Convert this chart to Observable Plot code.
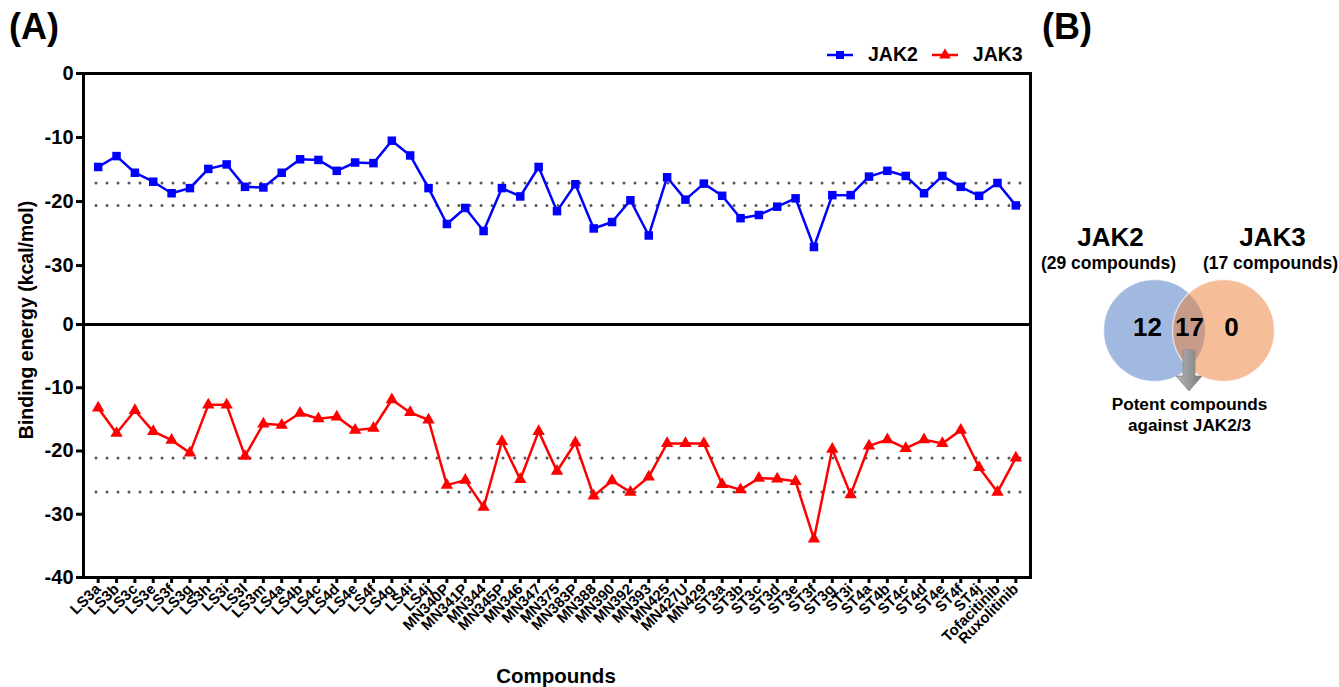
<!DOCTYPE html>
<html>
<head>
<meta charset="utf-8">
<script src="https://cdn.jsdelivr.net/npm/d3@7"></script>
<script src="https://cdn.jsdelivr.net/npm/@observablehq/plot@0.6"></script>
<style>
  html, body { margin: 0; padding: 0; background: #fff; }
  body { width: 1339px; height: 687px; position: relative; overflow: hidden;
         font-family: "Liberation Sans", Arial, sans-serif; font-weight: bold; color: #000; }
  .abs { position: absolute; }
  #legend { display: flex; align-items: center; font-size: 19.5px; }
  #legend span { margin-right: 13px; margin-left: 14px; }
</style>
</head>
<body>
<div class="abs" style="left:9px; top:6px; font-size:36px;">(A)</div>
<div class="abs" style="left:1042px; top:6px; font-size:36px;">(B)</div>
<div id="legend" class="abs" style="left:826px; top:43px;"></div>
<div class="abs" style="left:26px; top:320px; transform: translate(-50%,-50%) rotate(-90deg); font-size:19.5px; white-space:nowrap;">Binding energy (kcal/mol)</div>
<div class="abs" style="left:556px; top:676px; transform: translate(-50%,-50%); font-size:20.5px;">Compounds</div>
<div id="top" class="abs" style="left:0; top:63px;"></div>
<div id="bottom" class="abs" style="left:0; top:324px;"></div>
<div id="venn" class="abs" style="left:1060px; top:200px;"></div>
<script>
const compounds = ["LS3a","LS3b","LS3c","LS3e","LS3f","LS3g","LS3h","LS3i","LS3l","LS3m",
  "LS4a","LS4b","LS4c","LS4d","LS4e","LS4f","LS4g","LS4i","LS4j",
  "MN340P","MN341P","MN344","MN345P","MN346","MN347","MN375","MN383P","MN388","MN390",
  "MN392","MN393","MN425","MN427U","MN429",
  "ST3a","ST3b","ST3c","ST3d","ST3e","ST3f","ST3g","ST3i",
  "ST4a","ST4b","ST4c","ST4d","ST4e","ST4f","ST4j","Tofacitinib","Ruxolitinib"];
const jak2 = [-14.6,-12.9,-15.5,-16.9,-18.7,-17.9,-14.9,-14.2,-17.7,-17.8,
  -15.5,-13.4,-13.5,-15.2,-13.9,-14.0,-10.5,-12.8,-17.9,
  -23.5,-21.0,-24.6,-17.9,-19.2,-14.6,-21.5,-17.3,-24.2,-23.2,
  -19.8,-25.3,-16.2,-19.7,-17.2,
  -19.1,-22.6,-22.1,-20.8,-19.5,-27.1,-19.0,-19.0,
  -16.1,-15.2,-16.0,-18.7,-16.0,-17.7,-19.1,-17.1,-20.6];
const jak3 = [-13.2,-17.2,-13.6,-16.9,-18.3,-20.3,-12.7,-12.7,-20.8,-15.7,
  -15.9,-14.0,-14.9,-14.6,-16.7,-16.4,-11.9,-13.9,-15.1,
  -25.4,-24.6,-28.9,-18.5,-24.5,-16.9,-23.2,-18.7,-27.1,-24.7,
  -26.5,-24.1,-18.8,-18.8,-18.8,
  -25.3,-26.1,-24.3,-24.4,-24.8,-33.9,-19.7,-26.9,
  -19.2,-18.2,-19.6,-18.2,-18.8,-16.7,-22.6,-26.5,-21.1];
const referenceDrugs = ["Tofacitinib","Ruxolitinib"];
const seriesNames = ["JAK2","JAK3"];
const seriesColors = ["blue","red"];
const seriesSymbols = ["square","triangle"];
const topTicks = [0,-10,-20,-30];
const bottomTicks = [0,-10,-20,-30,-40];

// Venn data
const vennSets = ["JAK2","JAK3"];
const vennTotals = [29,17];
const vennRegions = ["JAK2 only","JAK2/3","JAK3 only"];
const vennCounts = [12,17,0];
const vennColors = ["#4472C4","#ED7D31"];
const vennCaption = "Potent compounds\nagainst JAK2/3";

const font = "'Liberation Sans', Arial, sans-serif";
const rows2 = compounds.map((c,i)=>({compound:c, value:jak2[i]}));
const rows3 = compounds.map((c,i)=>({compound:c, value:jak3[i]}));
const ref2 = referenceDrugs.map(d => jak2[compounds.indexOf(d)]);
const ref3 = referenceDrugs.map(d => jak3[compounds.indexOf(d)]);

function panel(rows, refs, idx, opts) {
  return Plot.plot({
    width: 1040, height: opts.height,
    marginLeft: 83, marginRight: 10, marginTop: opts.marginTop, marginBottom: opts.marginBottom,
    style: {fontFamily: font, fontWeight: "bold", fontSize: "20px", overflow: "visible", background: "transparent", color: "#000"},
    x: {type: "point", domain: compounds, padding: 0.8, round: false},
    y: {domain: opts.domain},
    marks: [
      Plot.ruleY(refs, {stroke: "#555", strokeWidth: 3, strokeDasharray: "0,11", strokeLinecap: "round", insetLeft: 13}),
      Plot.line(rows, {x: "compound", y: "value", stroke: seriesColors[idx], strokeWidth: 2.5}),
      Plot.dot(rows, {x: "compound", y: "value", symbol: seriesSymbols[idx], fill: seriesColors[idx], r: idx === 0 ? 4.8 : 4.6}),
      Plot.frame({strokeWidth: 3}),
      Plot.axisY({ticks: opts.ticks, tickFormat: d => String(d), tickSize: 7, tickPadding: 3, strokeWidth: 3, label: null, fontSize: 20}),
      opts.xaxis ? Plot.axisX({tickRotate: -45, tickSize: 6, tickPadding: 3, strokeWidth: 3, label: null, fontSize: 15}) : Plot.axisX({ticks: [], label: null})
    ]
  });
}

document.getElementById("top").append(panel(rows2, ref2, 0, {height: 261, marginTop: 10, marginBottom: 0, domain: [-39.2, 0], ticks: topTicks, xaxis: false}));
document.getElementById("bottom").append(panel(rows3, ref3, 1, {height: 363, marginTop: 0, marginBottom: 110, domain: [-40, 0], ticks: bottomTicks, xaxis: true}));

// legend
const legend = document.getElementById("legend");
seriesNames.forEach((name, i) => {
  const sw = d3.create("svg").attr("width", 28).attr("height", 14);
  sw.append("line").attr("x1", 1).attr("x2", 27).attr("y1", 7).attr("y2", 7).attr("stroke", seriesColors[i]).attr("stroke-width", 2.5);
  sw.append("path").attr("transform", "translate(14,7)")
    .attr("d", d3.symbol(i === 0 ? d3.symbolSquare : d3.symbolTriangle, i === 0 ? 64 : 60)())
    .attr("fill", seriesColors[i]);
  legend.append(sw.node());
  const s = document.createElement("span");
  s.textContent = name;
  if (i === seriesNames.length - 1) s.style.marginRight = "0";
  legend.append(s);
});

// Venn diagram
const blockArrow = (index, scales) => {
  const cx = scales.x(vennRegions[1]);
  const g = d3.create("svg:g");
  const grad = g.append("defs").append("linearGradient").attr("id", "arrowGrad").attr("x1", 0).attr("x2", 1);
  grad.append("stop").attr("offset", 0).attr("stop-color", "#b5b5b5");
  grad.append("stop").attr("offset", 0.5).attr("stop-color", "#9a9a9a");
  grad.append("stop").attr("offset", 1).attr("stop-color", "#7a7a7a");
  const top = 150, shaftBottom = 176, tip = 191, hw = 6, hh = 13;
  g.append("path")
    .attr("d", `M${cx-hw},${top}H${cx+hw}V${shaftBottom}H${cx+hh}L${cx},${tip}L${cx-hh},${shaftBottom}H${cx-hw}Z`)
    .attr("fill", "url(#arrowGrad)").attr("stroke", "#8a8a8a").attr("stroke-width", 0.8);
  return g.node();
};

const venn = Plot.plot({
  width: 270, height: 260, margin: 0,
  style: {fontFamily: font, fontWeight: "bold", overflow: "visible", background: "transparent", color: "#000"},
  x: {type: "point", domain: vennRegions, range: [87, 171], padding: 0, round: false, axis: null},
  marks: [
    Plot.dot([vennSets[0]], {x: () => vennRegions[0], r: 51, fill: vennColors[0], fillOpacity: 0.5, stroke: "#fff", strokeWidth: 1.5, strokeOpacity: 0.6, dx: 7}),
    Plot.dot([vennSets[1]], {x: () => vennRegions[2], r: 51, fill: vennColors[1], fillOpacity: 0.5, stroke: "#fff", strokeWidth: 1.5, strokeOpacity: 0.6, dx: -8}),
    Plot.text([vennSets[0]], {x: () => vennRegions[0], text: d => d, fontSize: 26, dx: -37, dy: -93}),
    Plot.text([vennSets[1]], {x: () => vennRegions[2], text: d => d, fontSize: 26, dx: 41, dy: -93}),
    Plot.text([vennTotals[0]], {x: () => vennRegions[0], text: d => `(${d} compounds)`, fontSize: 17.5, dx: -39, dy: -67}),
    Plot.text([vennTotals[1]], {x: () => vennRegions[2], text: d => `(${d} compounds)`, fontSize: 17.5, dx: 39, dy: -67}),
    Plot.text(vennRegions, {x: d => d, text: (d, i) => String(vennCounts[i]), fontSize: 26, dy: -3}),
    blockArrow,
    Plot.text([vennCaption], {x: () => vennRegions[1], text: d => d, fontSize: 17.2, lineAnchor: "top", lineHeight: 1.22, dy: 65})
  ]
});
document.getElementById("venn").append(venn);
</script>
</body>
</html>
